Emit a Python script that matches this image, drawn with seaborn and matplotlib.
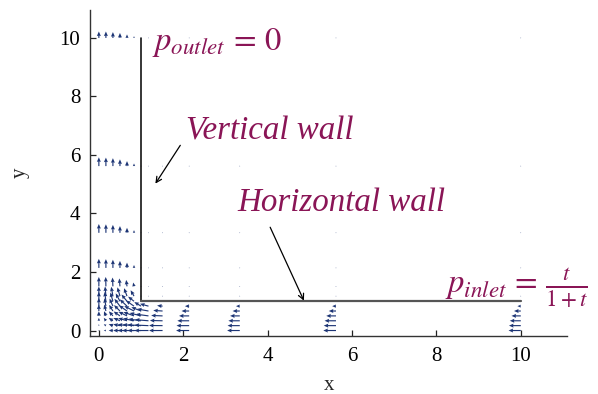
import numpy as np
import matplotlib
matplotlib.use("Agg")
import matplotlib.pyplot as plt
import seaborn as sns

# Grid nodes (same spacing in x and y): uniform inside the unit corner,
# geometrically stretched along the two channel legs.
xs = [0.0, 0.167, 0.333, 0.5, 0.667, 0.833, 1.0, 1.176, 1.51, 2.14, 3.34, 5.62, 10.0]
ys = [0.0, 0.167, 0.333, 0.5, 0.667, 0.833, 1.0, 1.176, 1.51, 2.14, 3.34, 5.62, 10.0]

# Corner block [0,1]x[0,1]: rows are y-nodes 0..1, columns are x-nodes 0..1
corner_u = [
    [0.0, -0.05, -0.10, -0.16, -0.22, -0.28, -0.32],
    [0.0, -0.05, -0.10, -0.16, -0.22, -0.27, -0.32],
    [0.0, -0.05, -0.10, -0.155, -0.21, -0.26, -0.30],
    [0.0, -0.045, -0.095, -0.15, -0.20, -0.25, -0.27],
    [0.0, -0.04, -0.09, -0.14, -0.19, -0.23, -0.23],
    [0.0, -0.035, -0.08, -0.13, -0.17, -0.19, -0.16],
    [0.0, -0.03, -0.06, -0.10, -0.13, -0.14, 0.0],
]
corner_v = [
    [0.0, 0.0, 0.0, 0.0, 0.0, 0.0, 0.0],
    [0.05, 0.05, 0.05, 0.045, 0.04, 0.035, 0.03],
    [0.10, 0.10, 0.10, 0.095, 0.09, 0.08, 0.06],
    [0.16, 0.16, 0.155, 0.15, 0.14, 0.13, 0.10],
    [0.22, 0.22, 0.21, 0.20, 0.19, 0.17, 0.13],
    [0.28, 0.27, 0.26, 0.25, 0.23, 0.19, 0.14],
    [0.32, 0.32, 0.30, 0.27, 0.23, 0.16, 0.0],
]

# Horizontal leg (x > 1, y in [0,1]): rows are y-nodes 0..1, columns x = 1.176 .. 10
horiz_u = [
    [-0.33, -0.32, -0.31, -0.30, -0.30, -0.29],
    [-0.33, -0.32, -0.30, -0.29, -0.29, -0.28],
    [-0.32, -0.30, -0.28, -0.27, -0.27, -0.26],
    [-0.30, -0.27, -0.24, -0.23, -0.23, -0.22],
    [-0.27, -0.22, -0.18, -0.17, -0.17, -0.16],
    [-0.20, -0.13, -0.10, -0.09, -0.09, -0.08],
    [0.0, 0.0, 0.0, 0.0, 0.0, 0.0],
]
horiz_v = [
    [0.0, 0.0, 0.0, 0.0, 0.0, 0.0],
    [0.02, 0.005, 0.0, 0.0, 0.0, 0.0],
    [0.04, 0.01, 0.0, 0.0, 0.0, 0.0],
    [0.06, 0.015, 0.0, 0.0, 0.0, 0.0],
    [0.07, 0.02, 0.0, 0.0, 0.0, 0.0],
    [0.08, 0.02, 0.0, 0.0, 0.0, 0.0],
    [0.0, 0.0, 0.0, 0.0, 0.0, 0.0],
]

# Vertical leg (y > 1, x in [0,1]): rows are y = 1.176 .. 10, columns x-nodes 0..1
vert_u = [
    [0.0, -0.02, -0.04, -0.06, -0.07, -0.08, 0.0],
    [0.0, -0.005, -0.01, -0.015, -0.02, -0.02, 0.0],
    [0.0, 0.0, 0.0, 0.0, 0.0, 0.0, 0.0],
    [0.0, 0.0, 0.0, 0.0, 0.0, 0.0, 0.0],
    [0.0, 0.0, 0.0, 0.0, 0.0, 0.0, 0.0],
    [0.0, 0.0, 0.0, 0.0, 0.0, 0.0, 0.0],
]
vert_v = [
    [0.33, 0.33, 0.32, 0.30, 0.27, 0.20, 0.0],
    [0.32, 0.32, 0.30, 0.27, 0.22, 0.13, 0.0],
    [0.31, 0.30, 0.28, 0.24, 0.18, 0.10, 0.0],
    [0.30, 0.29, 0.27, 0.23, 0.17, 0.09, 0.0],
    [0.30, 0.29, 0.27, 0.23, 0.17, 0.09, 0.0],
    [0.22, 0.22, 0.20, 0.17, 0.12, 0.06, 0.0],
]

x_ticks = [0, 2, 4, 6, 8, 10]
y_ticks = [0, 2, 4, 6, 8, 10]

# Assemble the full velocity field; nodes outside the L-shaped duct stay zero
n = len(xs)
U = np.zeros((n, n))
V = np.zeros((n, n))
U[:7, :7] = corner_u
V[:7, :7] = corner_v
U[:7, 7:] = horiz_u
V[:7, 7:] = horiz_v
U[7:, :7] = vert_u
V[7:, :7] = vert_v
X, Y = np.meshgrid(xs, ys)

sns.set_theme(style="ticks")
plt.rcParams["font.family"] = ["Liberation Serif", "DejaVu Serif"]
plt.rcParams["mathtext.fontset"] = "stix"
plt.rcParams["xtick.direction"] = "in"
plt.rcParams["ytick.direction"] = "in"

fig = plt.figure(figsize=(5.98, 3.94), dpi=100)
ax = fig.add_axes([0.1505, 0.147, 0.798, 0.828])

arrow_color = "#1d3575"
ax.quiver(X, Y, U, V, angles="xy", scale_units="xy", scale=1,
          color=arrow_color, width=0.0024, headwidth=3.5, headlength=4,
          headaxislength=3.6, minlength=0.6)

# Duct walls
ax.plot([1, 1], [1, 10], color="black", lw=1.1)
ax.plot([1, 10], [1, 1], color="#555555", lw=1.6)

text_color = "#8a1556"
ax.text(1.25, 9.6, r"$p_{outlet}\,=\,0$", fontsize=23.5, color=text_color,
        ha="left", va="baseline")
ax.text(2.07, 6.52, "Vertical wall", fontsize=23.8, style="italic",
        color=text_color, ha="left", va="baseline")
ax.text(3.28, 4.09, "Horizontal wall", fontsize=23.8, style="italic",
        color=text_color, ha="left", va="baseline")
ax.text(8.2, 1.26, r"$p_{inlet}\,=\,\frac{t}{1+t}$", fontsize=23.5,
        color=text_color, ha="left", va="baseline")

arrowprops = dict(arrowstyle="->", lw=0.9, color="black", mutation_scale=10,
                  shrinkA=0, shrinkB=0)
ax.annotate("", xy=(1.34, 5.02), xytext=(1.93, 6.33), arrowprops=arrowprops)
ax.annotate("", xy=(4.86, 1.02), xytext=(4.06, 3.53), arrowprops=arrowprops)

ax.set_xlim(-0.21, 11.1)
ax.set_ylim(-0.19, 10.96)
ax.set_xticks(x_ticks)
ax.set_yticks(y_ticks)
ax.tick_params(labelsize=15, length=4, width=0.9, colors="#222222",
               labelcolor="black")
ax.tick_params(axis="x", pad=7.8)
ax.tick_params(axis="y", pad=7.1)
ax.set_xlabel("x", fontsize=15, labelpad=7)
ax.set_ylabel("y", fontsize=15, labelpad=21.5)
sns.despine(ax=ax)
for s in ("left", "bottom"):
    ax.spines[s].set_color("#333333")
    ax.spines[s].set_linewidth(1.0)

fig.savefig("out.png", dpi=100)
